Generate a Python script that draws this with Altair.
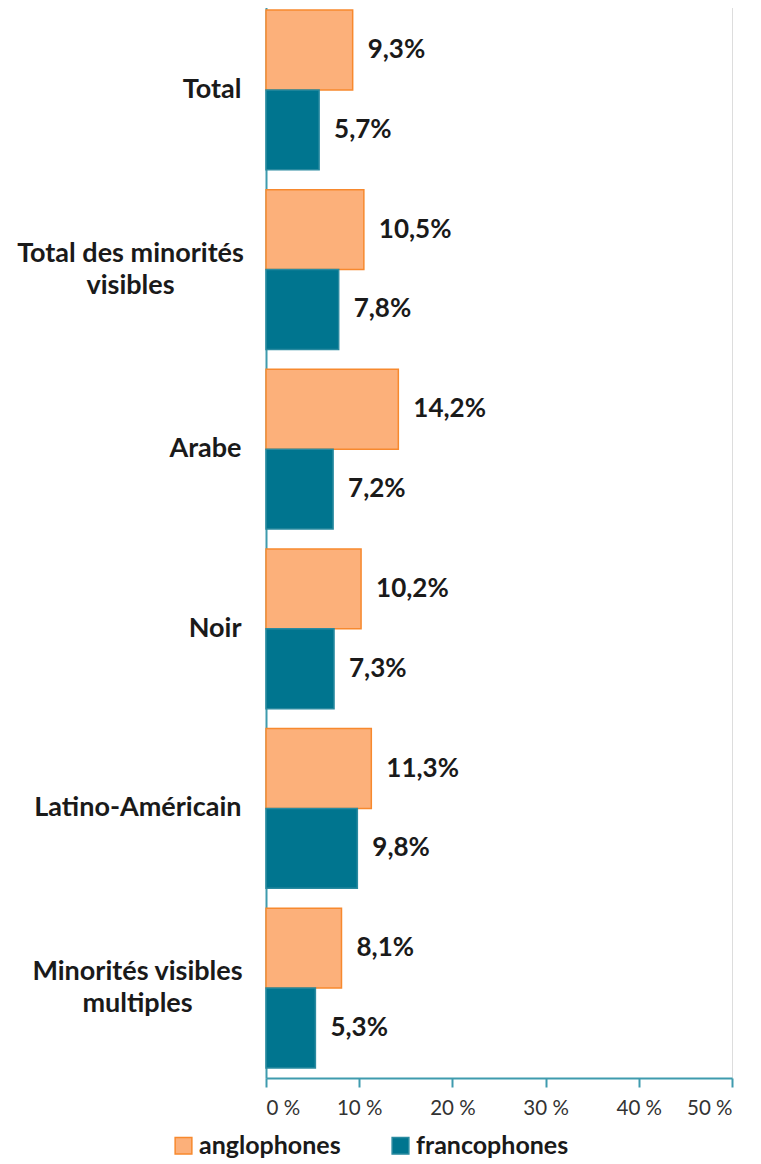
import altair as alt
import pandas as pd

categories = ["Total", "Total des minorités|visibles", "Arabe", "Noir",
              "Latino-Américain", "Minorités visibles|multiples"]
anglophones = [9.3, 10.5, 14.2, 10.2, 11.3, 8.1]
francophones = [5.7, 7.8, 7.2, 7.3, 9.8, 5.3]
groups = ["anglophones", "francophones"]
x_ticks = [0, 10, 20, 30, 40, 50]

rows = []
for c, a, f in zip(categories, anglophones, francophones):
    rows.append({"cat": c, "group": groups[0], "value": a})
    rows.append({"cat": c, "group": groups[1], "value": f})
df = pd.DataFrame(rows)

FONT = "Lato"
AXIS_COLOR = "#3F9BAE"
fills = ["#FCB07A", "#00758F"]
strokes = ["#F7892E", "#2A8AA0"]

legend = alt.Legend(title=None, orient="none", direction="horizontal",
                    legendX=-95, legendY=1133,
                    symbolType="square", symbolSize=280, symbolStrokeWidth=1.5,
                    labelFont=FONT, labelFontSize=25,
                    labelFontWeight="bold", labelColor="#1a1a1a",
                    columnPadding=47, labelOffset=3)

multi = "indexof(datum.value, '|') >= 0"
y_enc = alt.Y("cat:N", sort=categories,
              scale=alt.Scale(paddingInner=0.111, paddingOuter=0.056),
              axis=alt.Axis(title=None, labelExpr="split(datum.label, '|')",
                            labelFont=FONT, labelFontSize=27, labelFontWeight="bold",
                            labelColor="#1a1a1a", labelLineHeight=32,
                            labelAlign={"condition": {"test": multi, "value": "center"},
                                        "value": "right"},
                            labelPadding={"condition": [
                                {"test": "datum.value == 'Total des minorités|visibles'", "value": 136},
                                {"test": "datum.value == 'Minorités visibles|multiples'", "value": 129}],
                                "value": 25},
                            labelOffset={"condition": {"test": multi, "value": -16}, "value": 0},
                            ticks=False, domainColor=AXIS_COLOR, domainWidth=2,
                            labelLimit=300))
yoff = alt.YOffset("group:N", sort=groups, scale=alt.Scale(paddingInner=0, paddingOuter=0))
x_enc = alt.X("value:Q", scale=alt.Scale(domain=[0, 50], nice=False),
              axis=alt.Axis(title=None, values=x_ticks, labelExpr="datum.value + ' %'",
                            grid=False, tickSize=9, tickColor=AXIS_COLOR, tickWidth=2,
                            domainColor=AXIS_COLOR, domainWidth=2,
                            labelFont=FONT, labelFontSize=20.5, labelColor="#333333",
                            labelPadding=11))

bars = alt.Chart(df).mark_bar(strokeWidth=1.5).encode(
    y=y_enc, yOffset=yoff, x=x_enc,
    color=alt.Color("group:N", sort=groups,
                    scale=alt.Scale(domain=groups, range=fills), legend=legend),
    stroke=alt.Stroke("group:N", sort=groups,
                      scale=alt.Scale(domain=groups, range=strokes), legend=legend),
)

labels = alt.Chart(df).transform_calculate(
    lab="replace(format(datum.value, '.1f'), '.', ',') + '%'"
).mark_text(align="left", baseline="middle", dx=15, font=FONT, fontSize=26,
            fontWeight="bold", color="#1a1a1a").encode(
    y=alt.Y("cat:N", sort=categories), yOffset=alt.YOffset("group:N", sort=groups),
    x="value:Q", text="lab:N")

chart = (bars + labels).properties(
    width=466, height=1078,
    autosize=alt.AutoSizeParams(type="none"),
    padding={"left": 258, "top": -8, "right": 20, "bottom": 86},
).configure_view(stroke=None).configure(background="white")

chart.save("out.html", embed_options={"renderer": "svg", "actions": False})
